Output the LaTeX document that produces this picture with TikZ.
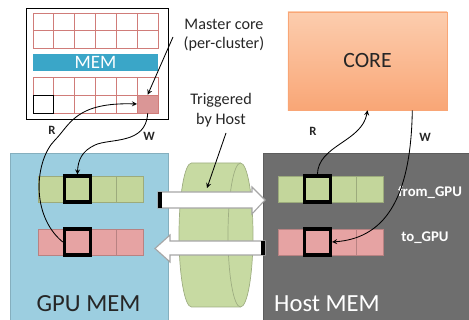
\documentclass[tikz,border=0pt]{standalone}
\usepackage{fontspec}
\setmainfont{Carlito}
\usetikzlibrary{positioning,calc}

\definecolor{memblue}{HTML}{3AA6C8}
\definecolor{gpublue}{HTML}{9CCEE0}
\definecolor{hostgray}{HTML}{6E6E6E}
\definecolor{cellgreen}{HTML}{C3D69B}
\definecolor{cellred}{HTML}{E6A3A3}
\definecolor{gridred}{HTML}{C0504D}
\definecolor{masterpink}{HTML}{DA9696}
\definecolor{coretop}{HTML}{FCCDAE}
\definecolor{corebot}{HTML}{F9A676}
\definecolor{cylgreen}{HTML}{C7DAA2}

\tikzset{
	gridcell/.style={draw=gridred!75, line width=0.5pt},
	greencell/.style={fill=cellgreen, draw=cellgreen!80!black, line width=0.4pt},
	redcell/.style={fill=cellred, draw=cellred!80!black, line width=0.4pt},
	slot/.style={draw=black, line width=2.2pt, minimum width=0.656cm, minimum height=0.65cm, inner sep=0pt},
	flow/.style={-stealth, line width=0.6pt},
	rwlabel/.style={font=\fontsize{9}{10}\selectfont\bfseries, text=black!85},
	bigtext/.style={font=\fontsize{17.5}{20}\selectfont},
	blockarrow/.style={fill=white, draw=gray!70, line width=0.8pt, line join=miter}
}

\begin{document}
\begin{tikzpicture}[x=0.025cm, y=-0.025cm, font=\fontsize{11.5}{14}\selectfont]

	\useasboundingbox (0,0) rectangle (469,320);

	% ---------------------
	% Cluster with master core
	\node[draw, line width=0.6pt, fill=white, minimum width=3.55cm, minimum height=2.775cm] (cluster) at (97,63.5) {};

	\foreach \r in {0,1}
		\foreach \c in {0,...,5} {
			\draw[gridcell] ({33+\c*20.83},{13+\r*17.5}) rectangle +(20.83,17.5);
			\draw[gridcell] ({33+\c*20.83},{77+\r*18}) rectangle +(20.83,18);
		}
	\draw[line width=0.6pt] (33,95) rectangle +(20.83,18);

	\node[fill=memblue, minimum width=3.125cm, minimum height=0.425cm, inner sep=0pt, text=white, font=\fontsize{13.5}{15}\selectfont] (mem) at (95.5,62.5) {MEM};

	\node[fill=masterpink, draw=gridred!75, minimum width=0.52cm, minimum height=0.45cm, inner sep=0pt] (master) at (147.7,104) {};

	% ---------------------
	% Memories
	\node[fill=gpublue, draw=gpublue!85!black, minimum width=3.95cm, minimum height=4.225cm] (gpu) at (89,237.5) {};
	\node[fill=hostgray, draw=hostgray!85!black, minimum width=5.2cm, minimum height=4.225cm] (host) at (367,237.5) {};

	\node[bigtext, anchor=base, text=black!85] (gpulabel) at (88.5,312) {GPU MEM};
	\node[bigtext, anchor=base, text=white] (hostlabel) at (327,312) {Host MEM};

	\foreach \x in {38,278}
		\foreach \i in {0,...,3} {
			\draw[greencell] ({\x+\i*26.25},176) rectangle +(26.25,26);
			\draw[redcell] ({\x+\i*26.25},229) rectangle +(26.25,26);
		}

	\node[slot] (gpuOut) at (77.4,189) {};
	\node[slot] (gpuIn) at (77.4,242) {};
	\node[slot] (hostOut) at (317.4,189) {};
	\node[slot] (hostIn) at (317.4,242) {};

	\node[font=\fontsize{10.5}{12}\selectfont\bfseries, text=white, anchor=base] (fromlabel) at (430,197) {from\_GPU};
	\node[font=\fontsize{10.5}{12}\selectfont\bfseries, text=white, anchor=base] (tolabel) at (425,242) {to\_GPU};

	% ---------------------
	% Core
	\node[top color=coretop, bottom color=corebot, draw=corebot, minimum width=3.975cm, minimum height=2.45cm, font=\fontsize{15.5}{18}\selectfont, text=black!85] (core) at (367.5,61) {CORE};

	% ---------------------
	% Transfer channel
	\path[fill=cylgreen, draw=cylgreen!80!black, line width=0.5pt]
		(191.5,163) -- (240.5,163)
		arc[start angle=-90, end angle=90, x radius=12.5, y radius=72]
		-- (191.5,307)
		arc[start angle=90, end angle=270, x radius=12.5, y radius=72] -- cycle;
	\draw[cylgreen!80!black, line width=0.5pt] (240.5,163) arc[start angle=270, end angle=90, x radius=12.5, y radius=72];

	\draw[blockarrow] (158,192) -- (252,192) -- (252,187) -- (265,200) -- (252,214) -- (252,208) -- (158,208) -- cycle;
	\fill (158,192) rectangle (162,208);
	\draw[blockarrow] (265,241) -- (170,241) -- (170,235) -- (155,248.5) -- (170,262) -- (170,255) -- (265,255) -- cycle;
	\fill (261,241) rectangle (265,255);

	% ---------------------
	% Labels
	\node[align=center, text=black!85] (mastertxt) at (224,35) {Master core\\(per-cluster)};
	\node[align=center, text=black!85] (trigtxt) at (221,110) {Triggered\\by Host};
	\coordinate (mastertail) at (173,37);
	\coordinate (trigtail) at (226,133);
	\coordinate (trighead) at (207,188);

	\node[rwlabel] (gpuR) at (52,130) {R};
	\node[rwlabel] (gpuW) at (149,136) {W};
	\node[rwlabel] (hostR) at (313,131) {R};
	\node[rwlabel] (hostW) at (425,137) {W};

	% ------------------------------------------------
	% Read / write paths
	\draw[flow] (mastertail) -- (master.north);
	\draw[flow] (trigtail) -- (trighead);

	\draw[flow] (gpuIn.west) .. controls (30,215) and (35,160) .. (55,140)
		.. controls (70,125) and (75,102) .. (master.west);
	\draw[flow] (master.south) .. controls (146,145) and (110,138) .. (95,145)
		.. controls (82,151) and (78,160) .. (gpuOut.north);

	\draw[flow] (hostOut.north) .. controls (318,145) and (362,142) .. (core.south);
	\draw[flow] ([xshift=1.12cm]core.south) .. controls (411,190) and (390,238) .. (hostIn.east);

\end{tikzpicture}
\end{document}
